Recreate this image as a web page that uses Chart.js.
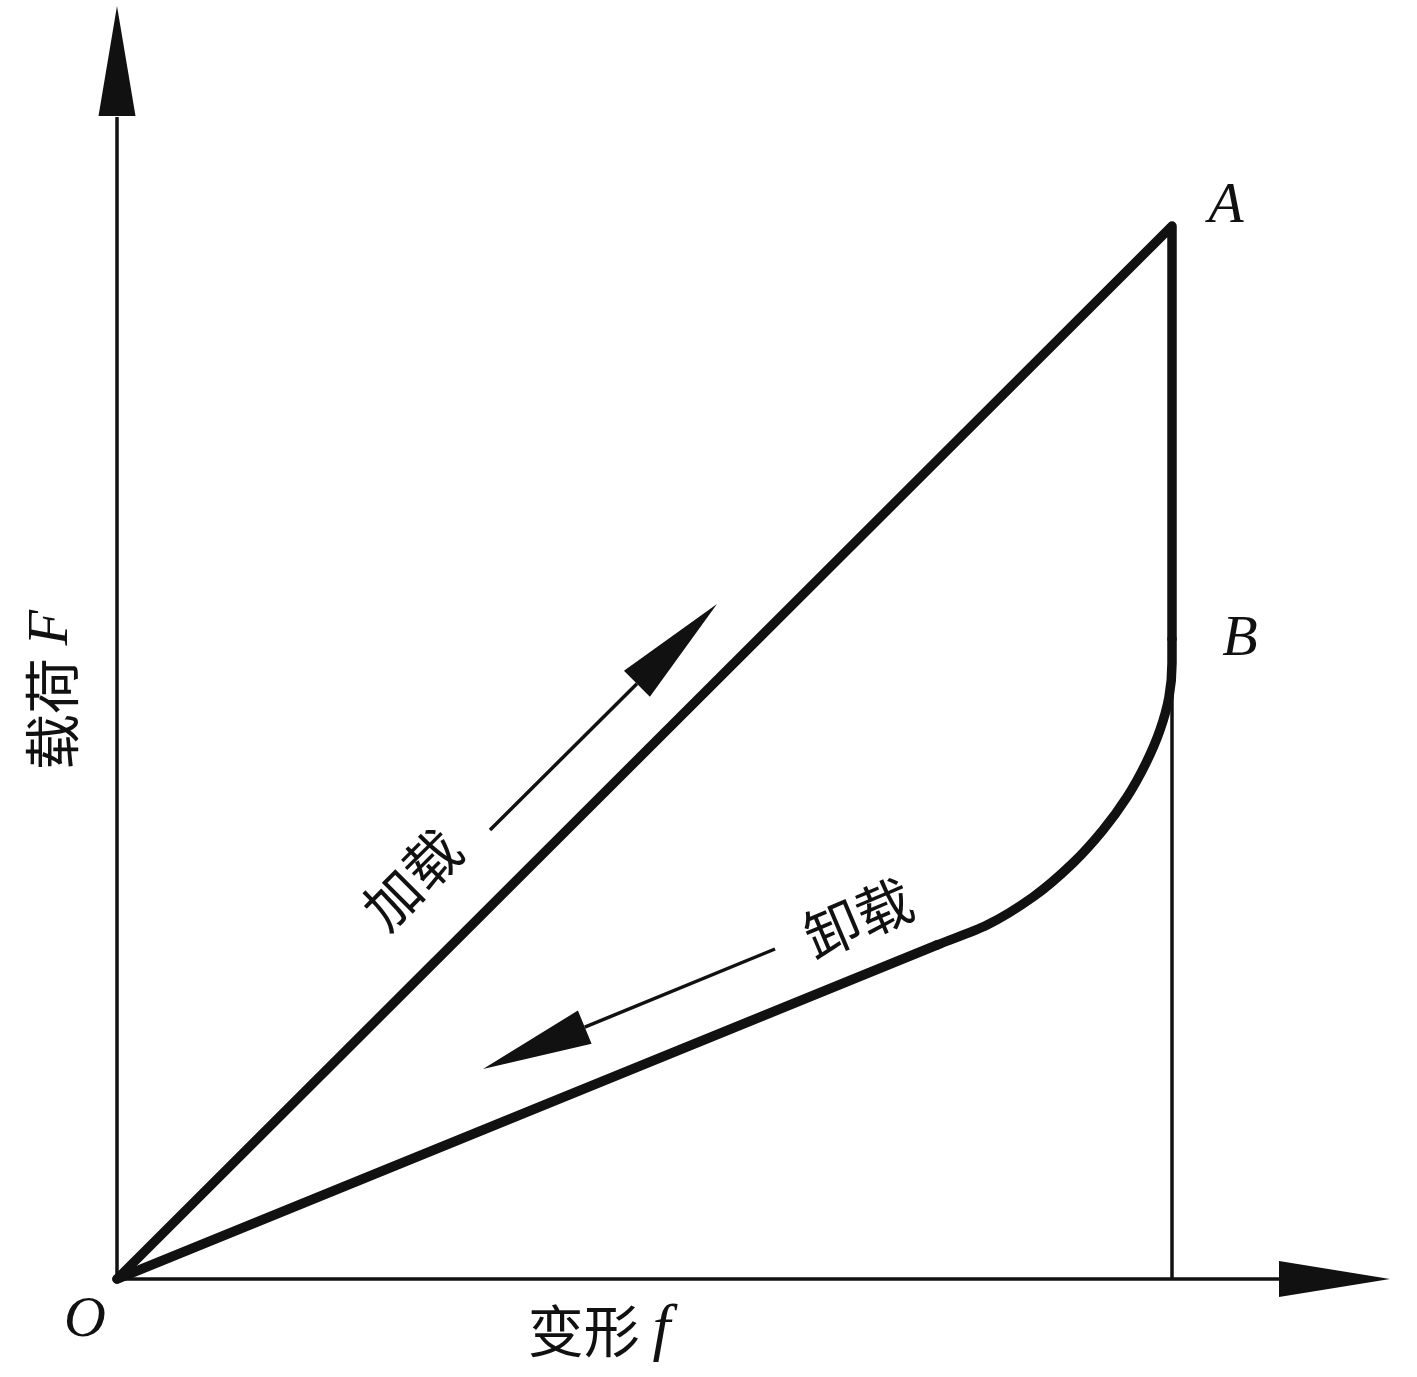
<!DOCTYPE html>
<html>
<head>
<meta charset="utf-8">
<script src="https://cdn.jsdelivr.net/npm/chart.js@4/dist/chart.umd.min.js"></script>
<style>
  html, body { margin: 0; padding: 0; background: #fff; }
  #wrap { width: 1417px; height: 1377px; position: relative; }
</style>
</head>
<body>
<div id="wrap"><canvas id="hyst"></canvas></div>
<script>
// ---- data (deformation f , load F) ----
// loading O -> A, then straight down to B
var loadX = [0, 1055, 1055];
var loadY = [0, 1053, 640];
// unloading knee from B, then straight back to O
var kneeX = [1055, 1055, 1052, 1043, 1029, 1010, 986, 956, 916, 870, 820];
var kneeY = [640, 616, 582, 549, 516, 482, 449, 416, 382, 354, 334];
var returnX = [820, 0];
var returnY = [334, 0];
var dropX = [1055, 1055];
var dropY = [0, 600];
var axisMax = 1162;     // where the axis arrow heads start
var axisTip = 1273;
var loadArrow = [373, 449, 600, 675];     // x0, y0, tipX, tipY
var unloadArrow = [658, 330, 366, 210];

function pts(xs, ys) {
  return xs.map(function (x, i) { return { x: x, y: ys[i] }; });
}

var ink = '#111111';

// draws a thin shaft with a solid triangular head, in data units
function arrow(chart, x0, y0, x1, y1, len, half, lw) {
  var sx = chart.scales.x, sy = chart.scales.y, c = chart.ctx;
  var ax = sx.getPixelForValue(x0), ay = sy.getPixelForValue(y0);
  var bx = sx.getPixelForValue(x1), by = sy.getPixelForValue(y1);
  var dx = bx - ax, dy = by - ay, d = Math.sqrt(dx * dx + dy * dy);
  var ux = dx / d, uy = dy / d;
  var cx = bx - ux * len, cy = by - uy * len;
  c.save();
  c.strokeStyle = ink; c.fillStyle = ink; c.lineWidth = lw;
  if (lw > 0) {
    c.beginPath(); c.moveTo(ax, ay); c.lineTo(cx, cy); c.stroke();
  }
  c.beginPath();
  c.moveTo(bx, by);
  c.lineTo(cx - uy * half, cy + ux * half);
  c.lineTo(cx + uy * half, cy - ux * half);
  c.closePath(); c.fill();
  c.restore();
}

// txt is a list of [string, font] parts drawn left to right, centred on (x, y)
function label(chart, txt, x, y, rot) {
  var c = chart.ctx;
  var px = chart.scales.x.getPixelForValue(x), py = chart.scales.y.getPixelForValue(y);
  c.save();
  c.translate(px, py);
  c.rotate(rot || 0);
  c.fillStyle = ink;
  c.textBaseline = 'middle';
  var w = 0;
  txt.forEach(function (p) { c.font = p[1]; w += c.measureText(p[0]).width; });
  var xx = -w / 2;
  c.textAlign = 'left';
  txt.forEach(function (p) { c.font = p[1]; c.fillText(p[0], xx, 0); xx += c.measureText(p[0]).width; });
  c.restore();
}

var cjk = '56px "Noto Sans CJK SC"';
var ital = 'italic 58px "Liberation Serif"';
var italBig = 'italic 64px "Liberation Serif"';

var decor = {
  id: 'decor',
  afterDatasetsDraw: function (chart) {
    // axis heads
    arrow(chart, 0, 0, 0, axisTip, 110, 18.5, 0);
    arrow(chart, 0, 0, axisTip, 0, 111, 18, 0);
    // direction arrows
    arrow(chart, loadArrow[0], loadArrow[1], loadArrow[2], loadArrow[3], 113, 18.4, 3.5);
    arrow(chart, unloadArrow[0], unloadArrow[1], unloadArrow[2], unloadArrow[3], 110, 18, 3.5);

    label(chart, [['O', ital]], -32, -42);
    label(chart, [['A', ital]], 1109, 1072);
    label(chart, [['B', ital]], 1123, 639);
    label(chart, [['变形 ', cjk], ['f', italBig]], 482, -52);
    label(chart, [['载荷 ', cjk], ['F', ital]], -65, 589, -Math.PI / 2);
    label(chart, [['加载', cjk]], 295, 400, -Math.PI / 4);
    label(chart, [['卸载', cjk]], 741, 361, -0.4);
  }
};

var thick = { borderColor: ink, borderWidth: 9.5, showLine: true, pointRadius: 0, clip: false,
  borderCapStyle: 'round', borderJoinStyle: 'round' };

var ctx = document.getElementById('hyst').getContext('2d');
var chart = new Chart(ctx, {
  type: 'scatter',
  data: {
    datasets: [
      { data: [{ x: 0, y: 0 }, { x: axisMax, y: 0 }], borderColor: ink, borderWidth: 3.5, showLine: true, pointRadius: 0, clip: false },
      { data: [{ x: 0, y: 0 }, { x: 0, y: axisMax }], borderColor: ink, borderWidth: 3.5, showLine: true, pointRadius: 0, clip: false },
      { data: pts(dropX, dropY), borderColor: ink, borderWidth: 3.5, showLine: true, pointRadius: 0, clip: false },
      Object.assign({ data: pts(loadX, loadY) }, thick),
      Object.assign({ data: pts(kneeX, kneeY), indexAxis: 'y', cubicInterpolationMode: 'monotone' }, thick),
      Object.assign({ data: pts(returnX, returnY) }, thick)
    ]
  },
  options: {
    responsive: true,
    maintainAspectRatio: false,
    animation: false,
    layout: { padding: { left: 117, right: 0, top: 0, bottom: 98 } },
    plugins: { legend: { display: false }, tooltip: { enabled: false } },
    scales: {
      x: { type: 'linear', min: 0, max: 1300, display: false },
      y: { type: 'linear', min: 0, max: 1279, display: false }
    }
  },
  plugins: [decor]
});
</script>
</body>
</html>
